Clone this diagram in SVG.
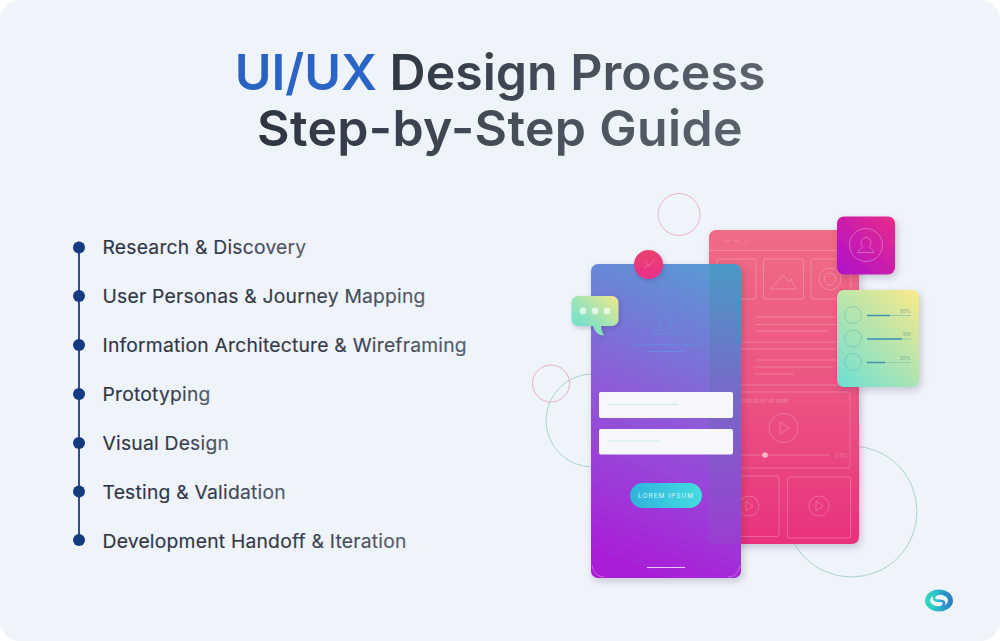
<svg xmlns="http://www.w3.org/2000/svg" width="1000" height="641" viewBox="0 0 1000 641">
<style>
.t{font-family:Inter,"Noto Sans",sans-serif}
.title{font-size:50px;font-weight:600;text-anchor:middle}
.item{font-size:19.300px;font-weight:400;letter-spacing:.22px;fill:url(#itemG);stroke:url(#itemG);stroke-width:.15px}
.dot{fill:#143a82}
.wl{fill:none;stroke:#fff;stroke-opacity:.22;stroke-width:1}
.bl{fill:none;stroke:#5aa0e6;stroke-opacity:.55;stroke-width:1}
.gl{fill:none;stroke:#5fa8a8;stroke-opacity:.55;stroke-width:.8}
.tiny{font-size:5.500px;fill:#fff;fill-opacity:.28}
</style>
<defs>
<linearGradient id="itemG" x1="0" y1="0" x2="1" y2="0"><stop offset="0" stop-color="#2c3443"/><stop offset=".6" stop-color="#333b49"/><stop offset="1" stop-color="#575f6a"/></linearGradient>
<linearGradient id="blueT" x1="0" y1="0" x2="1" y2="0"><stop offset="0" stop-color="#2a62c4"/><stop offset="1" stop-color="#2d6ecb"/></linearGradient>
<linearGradient id="dark1" gradientUnits="userSpaceOnUse" x1="380" y1="0" x2="765" y2="0"><stop offset="0" stop-color="#2e3744"/><stop offset="1" stop-color="#5b646e"/></linearGradient>
<linearGradient id="dark2" gradientUnits="userSpaceOnUse" x1="258" y1="0" x2="742" y2="0"><stop offset="0" stop-color="#2c3542"/><stop offset="1" stop-color="#5a636d"/></linearGradient>
<linearGradient id="backG" x1="0" y1="0" x2="0" y2="1"><stop offset="0" stop-color="#ef6c85"/><stop offset=".5" stop-color="#ec5582"/><stop offset="1" stop-color="#e8327e"/></linearGradient>
<linearGradient id="frontG" gradientUnits="userSpaceOnUse" x1="610" y1="570" x2="735" y2="262"><stop offset="0" stop-color="#ab1ad8"/><stop offset=".5" stop-color="#8f5ad8"/><stop offset="1" stop-color="#549fd4"/></linearGradient>
<linearGradient id="stripG" x1="0" y1="0" x2="0" y2="1"><stop offset="0" stop-color="#4a9ac6"/><stop offset=".45" stop-color="#766bc8"/><stop offset="1" stop-color="#9a3dd2"/></linearGradient>
<linearGradient id="pinkG" x1="0" y1="0" x2="0" y2="1"><stop offset="0" stop-color="#e8436f"/><stop offset="1" stop-color="#e92f88"/></linearGradient>
<linearGradient id="bubbleG" x1="0" y1="1" x2="1" y2="0"><stop offset="0" stop-color="#5fe0d4"/><stop offset=".4" stop-color="#8fe3be"/><stop offset="1" stop-color="#f2e98c"/></linearGradient>
<linearGradient id="purpleG" x1="0" y1="1" x2="1" y2="0"><stop offset="0" stop-color="#ad10cc"/><stop offset="1" stop-color="#e82c88"/></linearGradient>
<linearGradient id="greenG" x1=".1" y1="1" x2=".9" y2="0"><stop offset="0" stop-color="#72e0d2"/><stop offset="1" stop-color="#f5e98c"/></linearGradient>
<linearGradient id="btnG" x1="0" y1="0" x2="1" y2="0"><stop offset="0" stop-color="#2fb2dc"/><stop offset="1" stop-color="#44dde0"/></linearGradient>
<linearGradient id="logoA" x1="0" y1="0" x2="1" y2="0"><stop offset="0" stop-color="#2fd8c0"/><stop offset=".5" stop-color="#2cb4d0"/><stop offset="1" stop-color="#2a80c4"/></linearGradient>
<filter id="sh" x="-20%" y="-20%" width="140%" height="140%"><feDropShadow dx="2" dy="3" stdDeviation="3.500" flood-color="#3a2a50" flood-opacity=".22"/></filter>
<filter id="shS" x="-30%" y="-30%" width="160%" height="160%"><feDropShadow dx="1.500" dy="2" stdDeviation="2" flood-color="#3a2a50" flood-opacity=".22"/></filter>
</defs>
<rect width="1000" height="641" fill="#fff"/>
<rect width="1000" height="641" rx="20" fill="#eff3fa"/>
<g id="title" class="t">
<text class="title" x="500" y="90"><tspan fill="url(#blueT)">UI/UX</tspan><tspan fill="url(#dark1)"> Design Process</tspan></text>
<text class="title" x="500" y="146" letter-spacing=".35" fill="url(#dark2)">Step-by-Step Guide</text>
</g>
<g id="connectors"><line x1="79" y1="247" x2="79" y2="540" stroke="#2a4f94" stroke-width="2"/></g>
<g id="step1" class="t"><circle class="dot" cx="79" cy="247.500" r="6"/><text class="item" x="102.500" y="254">Research &amp; Discovery</text></g>
<g id="step2" class="t"><circle class="dot" cx="79" cy="296" r="6"/><text class="item" x="102.500" y="303">User Personas &amp; Journey Mapping</text></g>
<g id="step3" class="t"><circle class="dot" cx="79" cy="345" r="6"/><text class="item" x="102.500" y="352">Information Architecture &amp; Wireframing</text></g>
<g id="step4" class="t"><circle class="dot" cx="79" cy="394" r="6"/><text class="item" x="102.500" y="401">Prototyping</text></g>
<g id="step5" class="t"><circle class="dot" cx="79" cy="443" r="6"/><text class="item" x="102.500" y="450">Visual Design</text></g>
<g id="step6" class="t"><circle class="dot" cx="79" cy="491.500" r="6"/><text class="item" x="102.500" y="499">Testing &amp; Validation</text></g>
<g id="step7" class="t"><circle class="dot" cx="79" cy="540" r="6"/><text class="item" x="102.500" y="548">Development Handoff &amp; Iteration</text></g>
<g id="illustration">
<g id="rings" fill="none">
<circle cx="679" cy="214.500" r="21" stroke="#e8b4c8" stroke-width="1"/>
<circle cx="551" cy="383.500" r="18.500" stroke="#e6afd0" stroke-width="1"/>
<circle cx="592.500" cy="420.500" r="46.500" stroke="#a8d4d4" stroke-width="1"/>
<circle cx="851.500" cy="511.500" r="65.500" stroke="#a8d0d4" stroke-width="1"/>
</g>
<g id="back-phone">
<rect x="709" y="230" width="150" height="314" rx="7" fill="url(#backG)" filter="url(#sh)"/>
<g class="wl">
<path d="M724 240l3 2 3-2M733 240l3 2 3-2M745 243l3-2"/>
<path d="M709 250.500H859"/>
<rect x="717" y="259" width="39" height="40" rx="2"/>
<rect x="763.500" y="259" width="40" height="40" rx="2"/>
<rect x="811" y="259" width="40" height="40" rx="2"/>
<path d="M770 289l13-14 6 7 2-3 5 10z"/>
<circle cx="830" cy="279" r="11"/><circle cx="830" cy="279" r="6"/>
<path d="M755 317H840M756 324.500H840M756 331H828M720 342H850M720 349H850M756 360H840M755 367H832M754 374H794M712 385H851"/>
<rect x="714" y="392" width="136" height="76" rx="2"/>
<circle cx="783.500" cy="428" r="14.500"/><path d="M780 422v12l9-6z"/>
<path d="M720 455H830"/>
<rect x="714" y="476" width="65" height="60.500" rx="2"/>
<rect x="787.500" y="477" width="63" height="61" rx="2"/>
<circle cx="749" cy="506" r="10"/><path d="M746 501v10l7-5z"/>
<circle cx="819" cy="506" r="10"/><path d="M816 501v10l7-5z"/>
</g>
<circle cx="765" cy="455" r="2.800" fill="#f8b8c8"/>
<text class="t tiny" x="718" y="403">Lorem ipsum dolor sit amet</text>
<text class="t tiny" x="835" y="457.500">0:00</text>
</g>
<g id="front-phone">
<rect x="591" y="264" width="150" height="314" rx="7" fill="url(#frontG)" filter="url(#sh)"/>
<path d="M709 264h25a7 7 0 0 1 7 7v273h-27a5 5 0 0 1-5-5z" fill="url(#stripG)"/>
<g class="bl">
<path d="M654 334c0-3 6-4 7-7a7 7 0 1 1 9 0c1 3 7 4 8 7z"/>
<path d="M633 345H700M648 351.500H684"/>
</g>
<rect x="599" y="392" width="134" height="26" rx="2" fill="#f6f7fa"/>
<rect x="599" y="429" width="134" height="25.500" rx="2" fill="#f6f7fa"/>
<path d="M608 404.500H678M608 441H660" stroke="#c8eee2" stroke-width="1"/>
<rect x="630" y="483" width="72" height="25" rx="12.500" fill="url(#btnG)"/>
<text class="t" x="666" y="498" font-size="6.500" font-weight="400" letter-spacing="1" text-anchor="middle" fill="#d6f6f8">LOREM IPSUM</text>
<path d="M647 567.500H685" stroke="#e9c8f4" stroke-width="1"/>
<path d="M592 565c1 7 5 12 12 12M740 565c-1 7-5 12-12 12" fill="none" stroke="#fff" stroke-opacity=".3"/>
</g>
<g id="pink-button">
<circle cx="648.500" cy="264.500" r="14.500" fill="url(#pinkG)" filter="url(#shS)"/>
<path d="M644 261l5 5 6-7M644 268l5-3" fill="none" stroke="#fff" stroke-opacity=".2"/>
</g>
<g id="speech-bubble">
<path d="M578 296h34a6.500 6.500 0 0 1 6.500 6.500v17a6.500 6.500 0 0 1-6.500 6.500h-11c0 3 1 6 3 9.500c-5 0-9-3-11-9.500h-15a6.500 6.500 0 0 1-6.500-6.500v-17a6.500 6.500 0 0 1 6.500-6.500z" fill="url(#bubbleG)" filter="url(#shS)"/>
<g fill="#fff" fill-opacity=".65"><circle cx="583" cy="311" r="3.400"/><circle cx="595" cy="311" r="3.400"/><circle cx="607" cy="311" r="3.400"/></g>
</g>
<g id="profile-card">
<rect x="837" y="216.500" width="58" height="58" rx="7" fill="url(#purpleG)" filter="url(#sh)"/>
<circle cx="866" cy="245" r="16.500" fill="none" stroke="#fff" stroke-opacity=".3"/>
<path d="M858 252.500c0-3 4-4 5-6a5 5 0 1 1 6 0c1 2 5 3 5 6z" fill="none" stroke="#fff" stroke-opacity=".3"/>
</g>
<g id="stats-card">
<rect x="837" y="290" width="82" height="97" rx="7" fill="url(#greenG)" filter="url(#sh)"/>
<g class="gl"><circle cx="853" cy="315" r="8.500"/><circle cx="853" cy="338.500" r="8.500"/><circle cx="853" cy="362" r="8.500"/></g>
<path d="M867 315.500H911M867 339H911M867 362.500H911" stroke="#8fd0b0" stroke-width="1"/>
<path d="M867 315.500H890M867 339H902M867 362.500H885" stroke="#3f92b0" stroke-width="1.400"/>
<g class="t" font-size="5" fill="#7fa898" text-anchor="end"><text x="911" y="313">50%</text><text x="911" y="336">100</text><text x="911" y="360">20%</text></g>
</g>
</g>
<g id="logo">
<ellipse cx="939" cy="600.500" rx="11.500" ry="8.500" fill="none" stroke="url(#logoA)" stroke-width="5"/>
<path d="M946 594.500C940 591.500 933.500 594.500 934 598.500C935 603 943 598.500 944 602.500C944.500 606.500 938 609.500 932 606.500" fill="none" stroke="url(#logoA)" stroke-width="2.500"/>
</g>
</svg>
